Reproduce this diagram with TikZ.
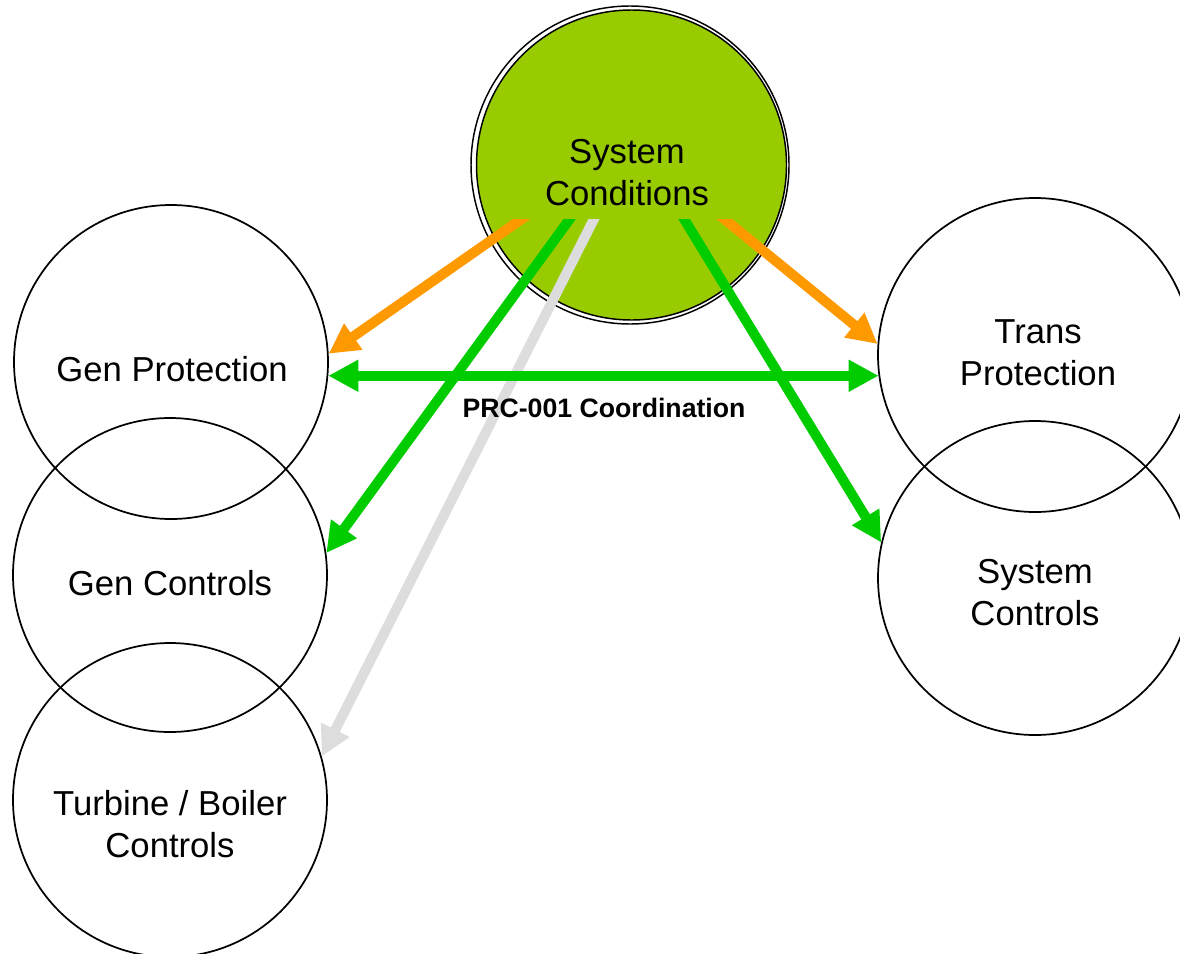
\documentclass[tikz,border=0pt]{standalone}
\usepackage{fontspec}
\setmainfont{Liberation Sans}
\usetikzlibrary{arrows.meta}
\definecolor{scgreen}{HTML}{99CC00}
\definecolor{arrorange}{HTML}{FF9900}
\definecolor{arrgreen}{HTML}{00CC00}
\definecolor{arrgray}{HTML}{DDDDDD}
\begin{document}
\begin{tikzpicture}[x=0.75pt,y=-0.75pt,
  circ/.style={circle,draw=black,line width=1.3pt,minimum size=235.5pt,inner sep=0pt},
  lbl/.style={anchor=base,align=center,inner sep=0pt,font=\fontsize{26}{31.5}\selectfont},
  flow/.style={line width=7.5pt,-{Triangle[width=22.5pt,length=22.5pt]}},
  biflow/.style={line width=7.5pt,{Triangle[width=22.5pt,length=22.5pt]}-{Triangle[width=22.5pt,length=22.5pt]}},
]
\useasboundingbox (0,0) rectangle (1180,953);
% side circles
\node[circ] (gp) at (171,362) {};
\node[circ] (gc) at (170,575) {};
\node[circ] (tb) at (170,800) {};
\node[circ] (tp) at (1035,355) {};
\node[circ] (sc) at (1035,578) {};
% system conditions
\node[circle,draw=black,line width=1.1pt,minimum size=238.5pt,inner sep=0pt] (ring) at (630,165) {};
\node[circle,draw=black,fill=scgreen,line width=1.1pt,minimum size=232.5pt,inner sep=0pt] (sys) at (631.5,165) {};
% arrow start points inside System Conditions
\coordinate (s1) at (536,209);
\coordinate (s2) at (577,209);
\coordinate (s3) at (599,209);
\coordinate (s4) at (678,209);
\coordinate (s5) at (712,209);
\begin{scope}
\clip (0,219) rectangle (1180,953);
\draw[flow,arrgray] (s3) -- (tb.16);
\draw[flow,arrgreen] (s2) -- (gc.8);
\draw[flow,arrgreen] (s4) -- (sc.167);
\draw[flow,arrorange] (s1) -- (gp.3);
\draw[flow,arrorange] (s5) -- (tp.176);
\end{scope}
\draw[biflow,arrgreen] (gp.-5.5) -- (gp.-5.5 -| tp.188);
% texts
\node[lbl] (syst) at (627,205) {System\\Conditions};
\node[lbl] (gpt) at (172,381) {Gen Protection};
\node[lbl] (gct) at (170,595) {Gen Controls};
\node[lbl] (tbt) at (170,857) {Turbine / Boiler\\Controls};
\node[lbl] (tpt) at (1038,385) {Trans\\Protection};
\node[lbl] (sct) at (1035,625) {System\\Controls};
\node[anchor=base,inner sep=0pt,font=\fontsize{20}{24}\selectfont\bfseries] (prc) at (604,417) {PRC-001 Coordination};
\end{tikzpicture}
\end{document}
